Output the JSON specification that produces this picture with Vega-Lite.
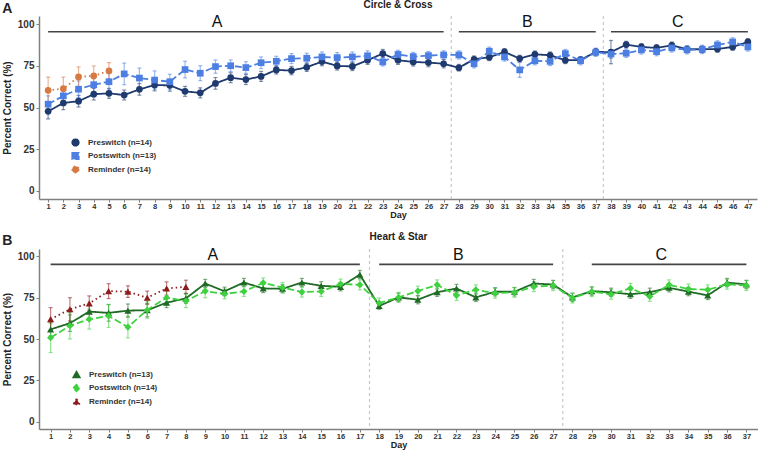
{
  "$schema": "https://vega.github.io/schema/vega-lite/v6.json",
  "padding": {"left": 2, "top": 0, "right": 0, "bottom": 0},
  "background": "white",
  "config": {
    "font": "Liberation Sans",
    "view": {"stroke": null},
    "axis": {"grid": false, "domainColor": "#808080", "domainWidth": 1.5, "tickColor": "#808080", "tickSize": 3, "labelFontWeight": "bold", "labelColor": "#333333", "titleFontWeight": "bold", "titleColor": "#222222"},
    "axisX": {"labelOverlap": false, "labelFlush": false, "labelFontSize": 7.5, "labelPadding": 0, "titleFontSize": 9, "titlePadding": 1, "labelAngle": 0},
    "axisY": {"labelFontSize": 10, "labelPadding": 2, "titleFontSize": 10, "titlePadding": 5},
    "legend": {"labelFontWeight": "bold", "labelFontSize": 8, "labelColor": "#333333", "symbolSize": 45, "rowPadding": 0.5, "labelOffset": 8, "symbolOpacity": 1},
    "title": {"fontWeight": "bold", "color": "#222222"}
  },
  "datasets": {
    "top": [
      {"day":1,"group":"Preswitch (n=14)","pct":47.7,"se":4.5},{"day":2,"group":"Preswitch (n=14)","pct":52.7,"se":4},{"day":3,"group":"Preswitch (n=14)","pct":53.8,"se":3.5},{"day":4,"group":"Preswitch (n=14)","pct":58,"se":3.5},{"day":5,"group":"Preswitch (n=14)","pct":58.5,"se":3},{"day":6,"group":"Preswitch (n=14)","pct":57.5,"se":3},{"day":7,"group":"Preswitch (n=14)","pct":60.9,"se":3.5},{"day":8,"group":"Preswitch (n=14)","pct":63.5,"se":3.5},{"day":9,"group":"Preswitch (n=14)","pct":63.3,"se":3.5},{"day":10,"group":"Preswitch (n=14)","pct":59.7,"se":3},{"day":11,"group":"Preswitch (n=14)","pct":58.8,"se":3},{"day":12,"group":"Preswitch (n=14)","pct":64.5,"se":3.5},{"day":13,"group":"Preswitch (n=14)","pct":67.9,"se":3},{"day":14,"group":"Preswitch (n=14)","pct":66.8,"se":3},{"day":15,"group":"Preswitch (n=14)","pct":68.7,"se":3},{"day":16,"group":"Preswitch (n=14)","pct":72.6,"se":2.5},{"day":17,"group":"Preswitch (n=14)","pct":72.2,"se":2.5},{"day":18,"group":"Preswitch (n=14)","pct":74.2,"se":2.5},{"day":19,"group":"Preswitch (n=14)","pct":77.6,"se":2.5},{"day":20,"group":"Preswitch (n=14)","pct":75,"se":2.5},{"day":21,"group":"Preswitch (n=14)","pct":74.7,"se":2.5},{"day":22,"group":"Preswitch (n=14)","pct":78.4,"se":2.5},{"day":23,"group":"Preswitch (n=14)","pct":82.4,"se":2.5},{"day":24,"group":"Preswitch (n=14)","pct":78.4,"se":2.5},{"day":25,"group":"Preswitch (n=14)","pct":77.4,"se":2.5},{"day":26,"group":"Preswitch (n=14)","pct":77,"se":2.5},{"day":27,"group":"Preswitch (n=14)","pct":76.3,"se":2.5},{"day":28,"group":"Preswitch (n=14)","pct":73.9,"se":2},{"day":29,"group":"Preswitch (n=14)","pct":79,"se":2},{"day":30,"group":"Preswitch (n=14)","pct":80.2,"se":2},{"day":31,"group":"Preswitch (n=14)","pct":83.4,"se":2},{"day":32,"group":"Preswitch (n=14)","pct":79.4,"se":2},{"day":33,"group":"Preswitch (n=14)","pct":82,"se":2},{"day":34,"group":"Preswitch (n=14)","pct":81.4,"se":2},{"day":35,"group":"Preswitch (n=14)","pct":78.4,"se":2},{"day":36,"group":"Preswitch (n=14)","pct":78.6,"se":2},{"day":37,"group":"Preswitch (n=14)","pct":83.4,"se":2},{"day":38,"group":"Preswitch (n=14)","pct":83.3,"se":7},{"day":39,"group":"Preswitch (n=14)","pct":87.8,"se":2},{"day":40,"group":"Preswitch (n=14)","pct":86.4,"se":2},{"day":41,"group":"Preswitch (n=14)","pct":85.8,"se":2},{"day":42,"group":"Preswitch (n=14)","pct":87.4,"se":2},{"day":43,"group":"Preswitch (n=14)","pct":85,"se":2},{"day":44,"group":"Preswitch (n=14)","pct":85,"se":2},{"day":45,"group":"Preswitch (n=14)","pct":85.2,"se":2},{"day":46,"group":"Preswitch (n=14)","pct":86.4,"se":2},{"day":47,"group":"Preswitch (n=14)","pct":89.4,"se":2},
      {"day":1,"group":"Postswitch (n=13)","pct":52,"se":5},{"day":2,"group":"Postswitch (n=13)","pct":57,"se":5},{"day":3,"group":"Postswitch (n=13)","pct":61,"se":5},{"day":4,"group":"Postswitch (n=13)","pct":63.7,"se":5},{"day":5,"group":"Postswitch (n=13)","pct":65.5,"se":5},{"day":6,"group":"Postswitch (n=13)","pct":70.2,"se":6.5},{"day":7,"group":"Postswitch (n=13)","pct":67.7,"se":6},{"day":8,"group":"Postswitch (n=13)","pct":66.5,"se":5.5},{"day":9,"group":"Postswitch (n=13)","pct":65.5,"se":4.5},{"day":10,"group":"Postswitch (n=13)","pct":72.8,"se":5},{"day":11,"group":"Postswitch (n=13)","pct":70.6,"se":4.5},{"day":12,"group":"Postswitch (n=13)","pct":74.6,"se":4},{"day":13,"group":"Postswitch (n=13)","pct":75.1,"se":3.5},{"day":14,"group":"Postswitch (n=13)","pct":74,"se":3.5},{"day":15,"group":"Postswitch (n=13)","pct":76.9,"se":3.5},{"day":16,"group":"Postswitch (n=13)","pct":77.8,"se":3},{"day":17,"group":"Postswitch (n=13)","pct":79.4,"se":3},{"day":18,"group":"Postswitch (n=13)","pct":79.6,"se":3},{"day":19,"group":"Postswitch (n=13)","pct":80.4,"se":3},{"day":20,"group":"Postswitch (n=13)","pct":80,"se":3},{"day":21,"group":"Postswitch (n=13)","pct":80.4,"se":3},{"day":22,"group":"Postswitch (n=13)","pct":81.1,"se":3},{"day":23,"group":"Postswitch (n=13)","pct":77.4,"se":2.5},{"day":24,"group":"Postswitch (n=13)","pct":81.9,"se":2.5},{"day":25,"group":"Postswitch (n=13)","pct":80.6,"se":2.5},{"day":26,"group":"Postswitch (n=13)","pct":81.2,"se":2.5},{"day":27,"group":"Postswitch (n=13)","pct":81.6,"se":2.5},{"day":28,"group":"Postswitch (n=13)","pct":81.6,"se":2.5},{"day":29,"group":"Postswitch (n=13)","pct":76.3,"se":2.5},{"day":30,"group":"Postswitch (n=13)","pct":83.8,"se":2.5},{"day":31,"group":"Postswitch (n=13)","pct":80.4,"se":2.5},{"day":32,"group":"Postswitch (n=13)","pct":72.6,"se":4.5},{"day":33,"group":"Postswitch (n=13)","pct":78.1,"se":2.5},{"day":34,"group":"Postswitch (n=13)","pct":77.7,"se":2.5},{"day":35,"group":"Postswitch (n=13)","pct":82.4,"se":2.5},{"day":36,"group":"Postswitch (n=13)","pct":78.1,"se":2.5},{"day":37,"group":"Postswitch (n=13)","pct":83.2,"se":2.5},{"day":38,"group":"Postswitch (n=13)","pct":82.1,"se":2.5},{"day":39,"group":"Postswitch (n=13)","pct":82.6,"se":2.5},{"day":40,"group":"Postswitch (n=13)","pct":84.6,"se":2.5},{"day":41,"group":"Postswitch (n=13)","pct":83.6,"se":2.5},{"day":42,"group":"Postswitch (n=13)","pct":85.8,"se":2.5},{"day":43,"group":"Postswitch (n=13)","pct":84.7,"se":2.5},{"day":44,"group":"Postswitch (n=13)","pct":84.9,"se":2.5},{"day":45,"group":"Postswitch (n=13)","pct":87.6,"se":2.5},{"day":46,"group":"Postswitch (n=13)","pct":89.4,"se":2.5},{"day":47,"group":"Postswitch (n=13)","pct":86.4,"se":2.5},
      {"day":1,"group":"Reminder (n=14)","pct":60.3,"se":8},{"day":2,"group":"Reminder (n=14)","pct":61.3,"se":7},{"day":3,"group":"Reminder (n=14)","pct":68.4,"se":6},{"day":4,"group":"Reminder (n=14)","pct":69,"se":6},{"day":5,"group":"Reminder (n=14)","pct":72,"se":5}
    ],
    "bottom": [
      {"day":1,"group":"Preswitch (n=13)","pct":55.8,"se":4},{"day":2,"group":"Preswitch (n=13)","pct":59.6,"se":5},{"day":3,"group":"Preswitch (n=13)","pct":66.6,"se":4},{"day":4,"group":"Preswitch (n=13)","pct":65.8,"se":5},{"day":5,"group":"Preswitch (n=13)","pct":67.2,"se":4},{"day":6,"group":"Preswitch (n=13)","pct":67.4,"se":4},{"day":7,"group":"Preswitch (n=13)","pct":72,"se":3},{"day":8,"group":"Preswitch (n=13)","pct":74.6,"se":3},{"day":9,"group":"Preswitch (n=13)","pct":83.6,"se":2.5},{"day":10,"group":"Preswitch (n=13)","pct":78.9,"se":2.5},{"day":11,"group":"Preswitch (n=13)","pct":84.2,"se":2.5},{"day":12,"group":"Preswitch (n=13)","pct":80.6,"se":2.5},{"day":13,"group":"Preswitch (n=13)","pct":80.4,"se":2.5},{"day":14,"group":"Preswitch (n=13)","pct":84.2,"se":2.5},{"day":15,"group":"Preswitch (n=13)","pct":82.2,"se":2.5},{"day":16,"group":"Preswitch (n=13)","pct":81.6,"se":2.5},{"day":17,"group":"Preswitch (n=13)","pct":89,"se":2.5},{"day":18,"group":"Preswitch (n=13)","pct":70,"se":2},{"day":19,"group":"Preswitch (n=13)","pct":75.2,"se":2.5},{"day":20,"group":"Preswitch (n=13)","pct":73.8,"se":2.5},{"day":21,"group":"Preswitch (n=13)","pct":78.3,"se":2.5},{"day":22,"group":"Preswitch (n=13)","pct":80.6,"se":2.5},{"day":23,"group":"Preswitch (n=13)","pct":75.2,"se":2.5},{"day":24,"group":"Preswitch (n=13)","pct":78.6,"se":2.5},{"day":25,"group":"Preswitch (n=13)","pct":78.6,"se":2.5},{"day":26,"group":"Preswitch (n=13)","pct":83.6,"se":2.5},{"day":27,"group":"Preswitch (n=13)","pct":83,"se":2.5},{"day":28,"group":"Preswitch (n=13)","pct":75.2,"se":2.5},{"day":29,"group":"Preswitch (n=13)","pct":79,"se":2.5},{"day":30,"group":"Preswitch (n=13)","pct":78.3,"se":2.5},{"day":31,"group":"Preswitch (n=13)","pct":77.1,"se":2.5},{"day":32,"group":"Preswitch (n=13)","pct":78.3,"se":2.5},{"day":33,"group":"Preswitch (n=13)","pct":81,"se":2.5},{"day":34,"group":"Preswitch (n=13)","pct":78.7,"se":2.5},{"day":35,"group":"Preswitch (n=13)","pct":76.4,"se":2.5},{"day":36,"group":"Preswitch (n=13)","pct":84.2,"se":2.5},{"day":37,"group":"Preswitch (n=13)","pct":83,"se":2.5},
      {"day":1,"group":"Postswitch (n=14)","pct":50.8,"se":9},{"day":2,"group":"Postswitch (n=14)","pct":58,"se":8},{"day":3,"group":"Postswitch (n=14)","pct":62,"se":6},{"day":4,"group":"Postswitch (n=14)","pct":64,"se":7},{"day":5,"group":"Postswitch (n=14)","pct":57.2,"se":6.5},{"day":6,"group":"Postswitch (n=14)","pct":67.6,"se":5},{"day":7,"group":"Postswitch (n=14)","pct":75,"se":4.5},{"day":8,"group":"Postswitch (n=14)","pct":73,"se":4},{"day":9,"group":"Postswitch (n=14)","pct":79,"se":4},{"day":10,"group":"Postswitch (n=14)","pct":77.3,"se":3},{"day":11,"group":"Postswitch (n=14)","pct":78.8,"se":3},{"day":12,"group":"Postswitch (n=14)","pct":84,"se":3},{"day":13,"group":"Postswitch (n=14)","pct":81.2,"se":3},{"day":14,"group":"Postswitch (n=14)","pct":78.4,"se":3},{"day":15,"group":"Postswitch (n=14)","pct":78.8,"se":3},{"day":16,"group":"Postswitch (n=14)","pct":83.3,"se":3},{"day":17,"group":"Postswitch (n=14)","pct":82.8,"se":3},{"day":18,"group":"Postswitch (n=14)","pct":71.8,"se":3},{"day":19,"group":"Postswitch (n=14)","pct":75.2,"se":3},{"day":20,"group":"Postswitch (n=14)","pct":79,"se":3},{"day":21,"group":"Postswitch (n=14)","pct":82.8,"se":3},{"day":22,"group":"Postswitch (n=14)","pct":76.4,"se":3},{"day":23,"group":"Postswitch (n=14)","pct":79.8,"se":3},{"day":24,"group":"Postswitch (n=14)","pct":77.7,"se":3},{"day":25,"group":"Postswitch (n=14)","pct":78.3,"se":3},{"day":26,"group":"Postswitch (n=14)","pct":81.7,"se":3},{"day":27,"group":"Postswitch (n=14)","pct":82.4,"se":3},{"day":28,"group":"Postswitch (n=14)","pct":74.8,"se":3},{"day":29,"group":"Postswitch (n=14)","pct":78.7,"se":3},{"day":30,"group":"Postswitch (n=14)","pct":77.1,"se":3},{"day":31,"group":"Postswitch (n=14)","pct":80.7,"se":3},{"day":32,"group":"Postswitch (n=14)","pct":75.8,"se":3},{"day":33,"group":"Postswitch (n=14)","pct":82.8,"se":3},{"day":34,"group":"Postswitch (n=14)","pct":80.3,"se":3},{"day":35,"group":"Postswitch (n=14)","pct":79.8,"se":3},{"day":36,"group":"Postswitch (n=14)","pct":83.2,"se":3},{"day":37,"group":"Postswitch (n=14)","pct":82.4,"se":3},
      {"day":1,"group":"Reminder (n=14)","pct":62,"se":7},{"day":2,"group":"Reminder (n=14)","pct":68,"se":7},{"day":3,"group":"Reminder (n=14)","pct":71.6,"se":4.5},{"day":4,"group":"Reminder (n=14)","pct":79,"se":4.5},{"day":5,"group":"Reminder (n=14)","pct":78.7,"se":3.5},{"day":6,"group":"Reminder (n=14)","pct":75,"se":4},{"day":7,"group":"Reminder (n=14)","pct":80.6,"se":4},{"day":8,"group":"Reminder (n=14)","pct":81.6,"se":4}
    ],
    "phasesTop": [
      {"phase":"A","start":1,"end":27,"labelDay":12.1},
      {"phase":"B","start":28,"end":37,"labelDay":32.5},
      {"phase":"C","start":38,"end":47,"labelDay":42.4}
    ],
    "phasesBottom": [
      {"phase":"A","start":1,"end":17,"labelDay":9.4},
      {"phase":"B","start":18,"end":27,"labelDay":22.1},
      {"phase":"C","start":29,"end":37,"labelDay":32.6}
    ],
    "switchTop": [{"boundary":27.5},{"boundary":37.5}],
    "switchBottom": [{"boundary":17.5},{"boundary":27.5}]
  },
  "resolve": {"scale": {"color": "independent", "shape": "independent", "strokeDash": "independent", "x": "independent", "y": "independent"}, "legend": {"color": "independent", "shape": "independent"}},
  "spacing": 11,
  "vconcat": [
    {
      "title": {"text": "A", "anchor": "start", "frame": "bounds", "fontSize": 14, "offset": -13, "dy": 3},
      "vconcat": [
        {
          "width": 718,
          "height": 183,
          "title": {"text": "Circle & Cross", "anchor": "middle", "fontSize": 10, "offset": 4},
          "layer": [
            {
              "data": {"name": "switchTop"},
              "mark": {"type": "rule", "color": "#c8c8c8", "strokeDash": [3, 3], "strokeWidth": 1.2},
              "encoding": {"x": {"field": "boundary", "type": "quantitative", "title": "Day", "scale": {"domain": [0.4, 47.6], "nice": false, "zero": false}, "axis": {"format": "d", "labelOverlap": false, "tickCount": 60, "values": [1,2,3,4,5,6,7,8,9,10,11,12,13,14,15,16,17,18,19,20,21,22,23,24,25,26,27,28,29,30,31,32,33,34,35,36,37,38,39,40,41,42,43,44,45,46,47]}}}
            },
            {
              "data": {"name": "phasesTop"},
              "mark": {"type": "rule", "color": "#444444", "strokeWidth": 1.6},
              "encoding": {"x": {"field": "start", "type": "quantitative", "title": "Day", "axis": {"format": "d", "labelOverlap": false, "tickCount": 60}}, "x2": {"field": "end"}, "y": {"datum": 95.5, "type": "quantitative", "title": "Percent Correct (%)"}}
            },
            {
              "data": {"name": "phasesTop"},
              "mark": {"type": "text", "fontSize": 16, "color": "#111111", "baseline": "bottom", "dy": 2},
              "encoding": {"x": {"field": "labelDay", "type": "quantitative", "title": "Day", "axis": {"format": "d", "labelOverlap": false, "tickCount": 60}}, "y": {"datum": 97.5, "type": "quantitative", "title": "Percent Correct (%)"}, "text": {"field": "phase"}}
            },
            {
              "data": {"name": "top"},
              "mark": {"type": "errorbar", "ticks": {"size": 4}, "opacity": 0.55, "thickness": 1.2},
              "encoding": {
                "x": {"field": "day", "type": "quantitative", "title": "Day", "axis": {"format": "d", "labelOverlap": false, "tickCount": 60}},
                "y": {"field": "pct", "type": "quantitative", "title": "Percent Correct (%)"},
                "yError": {"field": "se"},
                "color": {"field": "group", "type": "nominal", "title": null}
              }
            },
            {
              "data": {"name": "top"},
              "mark": {"type": "line", "strokeWidth": 1.8},
              "encoding": {
                "x": {"field": "day", "type": "quantitative", "title": "Day", "axis": {"format": "d", "labelOverlap": false, "tickCount": 60}},
                "y": {"field": "pct", "type": "quantitative", "title": "Percent Correct (%)"},
                "color": {"field": "group", "type": "nominal", "title": null},
                "strokeDash": {"field": "group", "type": "nominal", "scale": {"domain": ["Preswitch (n=14)", "Postswitch (n=13)", "Reminder (n=14)"], "range": [[1, 0], [7, 3], [1.5, 3]]}, "legend": null}
              }
            },
            {
              "data": {"name": "top"},
              "mark": {"type": "point", "filled": true, "size": 45, "opacity": 1},
              "encoding": {
                "x": {"field": "day", "type": "quantitative", "title": "Day", "axis": {"format": "d", "labelOverlap": false, "tickCount": 60}},
                "y": {"field": "pct", "type": "quantitative", "title": "Percent Correct (%)", "scale": {"domain": [-5, 105], "nice": false, "zero": false}, "axis": {"values": [0, 25, 50, 75, 100]}},
                "color": {"field": "group", "type": "nominal", "title": null, "scale": {"domain": ["Preswitch (n=14)", "Postswitch (n=13)", "Reminder (n=14)"], "range": ["#1f3a6e", "#4d7fe3", "#d67a45"]}, "legend": {"orient": "none", "legendX": 32, "legendY": 122}},
                "shape": {"field": "group", "type": "nominal", "title": null, "scale": {"domain": ["Preswitch (n=14)", "Postswitch (n=13)", "Reminder (n=14)"], "range": ["circle", "square", "circle"]}, "legend": {"orient": "none", "legendX": 32, "legendY": 122}}
              }
            }
          ]
        }
      ]
    },
    {
      "title": {"text": "B", "anchor": "start", "frame": "bounds", "fontSize": 14, "offset": -13, "dy": 3},
      "vconcat": [
        {
          "width": 719,
          "height": 180,
          "title": {"text": "Heart & Star", "anchor": "middle", "fontSize": 10, "offset": 5},
          "layer": [
            {
              "data": {"name": "switchBottom"},
              "mark": {"type": "rule", "color": "#c8c8c8", "strokeDash": [3, 3], "strokeWidth": 1.2},
              "encoding": {"x": {"field": "boundary", "type": "quantitative", "title": "Day", "scale": {"domain": [0.4, 37.6], "nice": false, "zero": false}, "axis": {"format": "d", "labelOverlap": false, "tickCount": 60, "values": [1,2,3,4,5,6,7,8,9,10,11,12,13,14,15,16,17,18,19,20,21,22,23,24,25,26,27,28,29,30,31,32,33,34,35,36,37]}}}
            },
            {
              "data": {"name": "phasesBottom"},
              "mark": {"type": "rule", "color": "#444444", "strokeWidth": 1.6},
              "encoding": {"x": {"field": "start", "type": "quantitative", "title": "Day", "axis": {"format": "d", "labelOverlap": false, "tickCount": 60}}, "x2": {"field": "end"}, "y": {"datum": 95.2, "type": "quantitative", "title": "Percent Correct (%)"}}
            },
            {
              "data": {"name": "phasesBottom"},
              "mark": {"type": "text", "fontSize": 16, "color": "#111111", "baseline": "bottom", "dy": 2},
              "encoding": {"x": {"field": "labelDay", "type": "quantitative", "title": "Day", "axis": {"format": "d", "labelOverlap": false, "tickCount": 60}}, "y": {"datum": 97.5, "type": "quantitative", "title": "Percent Correct (%)"}, "text": {"field": "phase"}}
            },
            {
              "data": {"name": "bottom"},
              "mark": {"type": "errorbar", "ticks": {"size": 4}, "opacity": 0.55, "thickness": 1.2},
              "encoding": {
                "x": {"field": "day", "type": "quantitative", "title": "Day", "axis": {"format": "d", "labelOverlap": false, "tickCount": 60}},
                "y": {"field": "pct", "type": "quantitative", "title": "Percent Correct (%)"},
                "yError": {"field": "se"},
                "color": {"field": "group", "type": "nominal", "title": null}
              }
            },
            {
              "data": {"name": "bottom"},
              "mark": {"type": "line", "strokeWidth": 1.8},
              "encoding": {
                "x": {"field": "day", "type": "quantitative", "title": "Day", "axis": {"format": "d", "labelOverlap": false, "tickCount": 60}},
                "y": {"field": "pct", "type": "quantitative", "title": "Percent Correct (%)"},
                "color": {"field": "group", "type": "nominal", "title": null},
                "strokeDash": {"field": "group", "type": "nominal", "scale": {"domain": ["Preswitch (n=13)", "Postswitch (n=14)", "Reminder (n=14)"], "range": [[1, 0], [7, 3], [1.5, 3]]}, "legend": null}
              }
            },
            {
              "data": {"name": "bottom"},
              "mark": {"type": "point", "filled": true, "size": 50, "opacity": 1},
              "encoding": {
                "x": {"field": "day", "type": "quantitative", "title": "Day", "axis": {"format": "d", "labelOverlap": false, "tickCount": 60}},
                "y": {"field": "pct", "type": "quantitative", "title": "Percent Correct (%)", "scale": {"domain": [-4.5, 104.5], "nice": false, "zero": false}, "axis": {"values": [0, 25, 50, 75, 100]}},
                "color": {"field": "group", "type": "nominal", "title": null, "scale": {"domain": ["Preswitch (n=13)", "Postswitch (n=14)", "Reminder (n=14)"], "range": ["#1f6b25", "#3fd13f", "#8e1c1c"]}, "legend": {"orient": "none", "legendX": 33, "legendY": 121}},
                "shape": {"field": "group", "type": "nominal", "title": null, "scale": {"domain": ["Preswitch (n=13)", "Postswitch (n=14)", "Reminder (n=14)"], "range": ["triangle-up", "diamond", "triangle-up"]}, "legend": {"orient": "none", "legendX": 33, "legendY": 121}}
              }
            }
          ]
        }
      ]
    }
  ]
}
